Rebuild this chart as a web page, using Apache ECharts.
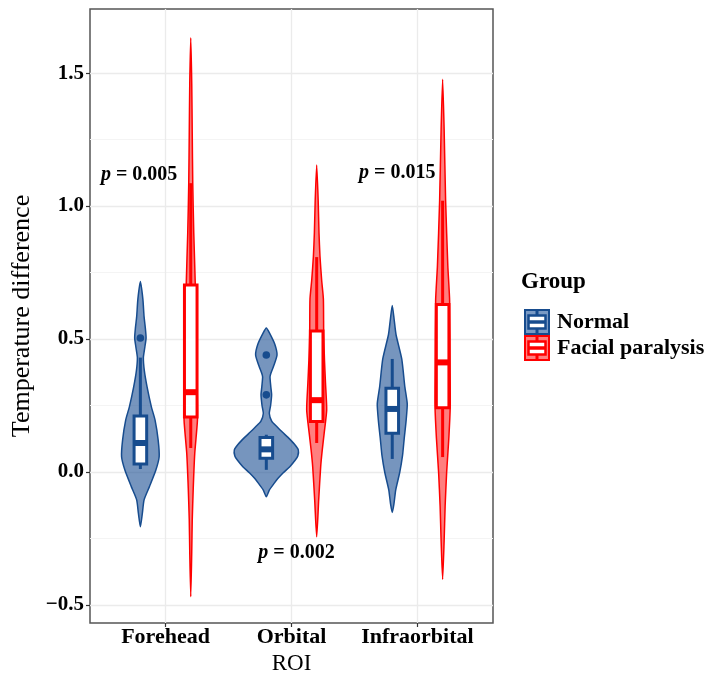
<!DOCTYPE html>
<html>
<head>
<meta charset="utf-8">
<script src="https://cdn.jsdelivr.net/npm/echarts@6/dist/echarts.min.js"></script>
<style>
html, body { margin: 0; padding: 0; background: #fff; }
#violinChart { width: 708px; height: 675px; }
</style>
</head>
<body>
<div id="violinChart"></div>
<script>
var categories = ["Forehead", "Orbital", "Infraorbital"];
var yTicks = [-0.5, 0, 0.5, 1, 1.5];
var yMinorTicks = [-0.25, 0.25, 0.75, 1.25];

// violin outlines, [value, density]
var normalViolins = [
  [[0.716, 0], [0.65, 2.5], [0.584, 3.7], [0.54, 5], [0.504, 5.7], [0.47, 4.5], [0.43, 3], [0.38, 4],
   [0.32, 6.7], [0.245, 11], [0.195, 14.7], [0.12, 17.8], [0.057, 18.8], [0.007, 15.5], [-0.056, 9],
   [-0.105, 3.7], [-0.155, 2], [-0.206, 0]],
  [[0.541, 0], [0.52, 3.5], [0.48, 8.5], [0.44, 10.7], [0.40, 7.5], [0.37, 4.5], [0.357, 3.7], [0.32, 4.5],
   [0.29, 5.3], [0.25, 4.3], [0.22, 3], [0.19, 5.5], [0.17, 10.7], [0.15, 16], [0.13, 21.7], [0.105, 28],
   [0.083, 32], [0.06, 31.5], [0.045, 29], [0.02, 23.5], [-0.004, 16.7], [-0.025, 11.5], [-0.042, 8],
   [-0.068, 3], [-0.093, 0]],
  [[0.626, 0], [0.57, 2], [0.516, 3.8], [0.425, 9.5], [0.32, 12.6], [0.256, 15], [0.19, 13.8], [0.127, 12],
   [0.062, 10.3], [-0.003, 7.4], [-0.067, 3.5], [-0.12, 1.7], [-0.152, 0]]
];
var paralysisViolins = [
  [[1.633, 0], [1.46, 1], [1.27, 1.5], [1.086, 2], [0.9, 3], [0.71, 4.5], [0.5, 5.5], [0.3, 6.5],
   [0.195, 6.7], [0.07, 4], [-0.06, 2.5], [-0.18, 1.5], [-0.3, 1], [-0.469, 0]],
  [[1.154, 0], [1.02, 1.5], [0.9, 2.3], [0.81, 3.3], [0.72, 5], [0.65, 6.7], [0.52, 7], [0.42, 7.8],
   [0.335, 8.8], [0.233, 10], [0.146, 7.5], [0.08, 5.5], [0.02, 4], [-0.105, 2], [-0.244, 0]],
  [[1.477, 0], [1.29, 1.5], [1.02, 3], [0.775, 5.2], [0.645, 7], [0.386, 7.5], [0.244, 7.6], [0.127, 6.2],
   [-0.003, 4], [-0.13, 2.5], [-0.26, 1.5], [-0.404, 0]]
];

// box stats: [lower whisker, q1, median, q3, upper whisker]
var normalBoxes = [
  [0.011, 0.03, 0.109, 0.21, 0.43],
  [0.008, 0.052, 0.085, 0.13, 0.14],
  [0.049, 0.146, 0.237, 0.315, 0.425]
];
var paralysisBoxes = [
  [0.09, 0.207, 0.30, 0.703, 1.086],
  [0.109, 0.19, 0.27, 0.53, 0.808],
  [0.056, 0.241, 0.412, 0.63, 1.02]
];
var normalOutliers = [[0.504], [0.44, 0.29], []];
var paralysisOutliers = [[], [], []];

var pValues = ["0.005", "0.002", "0.015"];
var pValueX = [0.79, 2.04, 2.84];
var pValueY = [1.117, -0.305, 1.124];

var serif = "Liberation Serif";
var blueLine = "#174c8e";
var blueFill = "rgba(27,79,147,0.6)";
var redLine = "#ff0000";
var redFill = "rgba(255,0,0,0.5)";
var densityScale = 1 / 126;
var boxHalf = 0.05;

function keyIcon(fill, line) {
  var svg = "<svg xmlns='http://www.w3.org/2000/svg' width='26' height='26'>" +
    "<rect x='1' y='1' width='24' height='24' fill='" + fill + "' stroke='" + line + "' stroke-width='2'/>" +
    "<line x1='13' y1='1' x2='13' y2='25' stroke='" + line + "' stroke-width='3'/>" +
    "<rect x='4.5' y='6.5' width='17' height='13' fill='#fff' stroke='" + line + "' stroke-width='2.5'/>" +
    "<line x1='4.5' y1='13' x2='21.5' y2='13' stroke='" + line + "' stroke-width='3.5'/>" +
    "</svg>";
  return "image://data:image/svg+xml;charset=utf-8," + encodeURIComponent(svg);
}

function makeRender(violins, boxes, outliers, offset, line, fill) {
  return function (params, api) {
    var i = params.dataIndex;
    var cx = i + 1 + offset;
    var prof = violins[i];
    var pts = [];
    prof.forEach(function (p) {
      pts.push(api.coord([cx + p[1] * densityScale, p[0]]));
    });
    for (var k = prof.length - 2; k > 0; k--) {
      pts.push(api.coord([cx - prof[k][1] * densityScale, prof[k][0]]));
    }
    var b = boxes[i];
    var tl = api.coord([cx - boxHalf, b[3]]);
    var br = api.coord([cx + boxHalf, b[1]]);
    var mid = api.coord([cx, b[2]]);
    var lo = api.coord([cx, b[0]]);
    var hi = api.coord([cx, b[4]]);
    var children = [
      { type: "polygon", shape: { points: pts, smooth: 0.2 }, style: { fill: fill, stroke: line, lineWidth: 1.5 } },
      { type: "line", shape: { x1: hi[0], y1: hi[1], x2: hi[0], y2: tl[1] }, style: { stroke: line, lineWidth: 3 } },
      { type: "line", shape: { x1: lo[0], y1: lo[1], x2: lo[0], y2: br[1] }, style: { stroke: line, lineWidth: 3 } },
      { type: "rect", shape: { x: tl[0], y: tl[1], width: br[0] - tl[0], height: br[1] - tl[1] },
        style: { fill: "#fff", stroke: line, lineWidth: 3 } },
      { type: "line", shape: { x1: tl[0], y1: mid[1], x2: br[0], y2: mid[1] }, style: { stroke: line, lineWidth: 6 } }
    ];
    outliers[i].forEach(function (v) {
      var c = api.coord([cx, v]);
      children.push({ type: "circle", shape: { cx: c[0], cy: c[1], r: 3.8 }, style: { fill: line } });
    });
    return { type: "group", children: children };
  };
}

var myChart = echarts.init(document.getElementById("violinChart"));

var option = {
  animation: false,
  backgroundColor: "#fff",
  title: {
    text: "Group",
    left: 516,
    top: 266,
    textStyle: { fontFamily: serif, fontSize: 23, fontWeight: "bold", color: "#000" }
  },
  legend: {
    orient: "vertical",
    left: 519,
    top: 304,
    itemWidth: 26,
    itemHeight: 26,
    itemGap: 0,
    selectedMode: false,
    textStyle: { fontFamily: serif, fontSize: 22, fontWeight: "bold", color: "#000", padding: [0, 0, 0, 2] },
    data: [
      { name: "Normal", icon: keyIcon("#7a9ac4", blueLine) },
      { name: "Facial paralysis", icon: keyIcon("#ff7f7f", redLine) }
    ]
  },
  grid: {
    left: 90,
    top: 9,
    width: 403,
    height: 614,
    outerBoundsMode: "none",
    containLabel: false,
    show: true,
    borderColor: "#555",
    borderWidth: 1.5,
    backgroundColor: "#fff"
  },
  xAxis: {
    type: "value",
    min: 0.4,
    max: 3.6,
    axisLine: { show: false, onZero: false },
    axisTick: { show: true, customValues: [1, 2, 3], length: 4, lineStyle: { color: "#333", width: 1.2 } },
    axisLabel: {
      customValues: [1, 2, 3],
      margin: 3,
      formatter: function (v) { return categories[Math.round(v) - 1]; },
      fontFamily: serif, fontSize: 22, fontWeight: "bold", color: "#000"
    },
    splitLine: { show: true, lineStyle: { color: "#ebebeb", width: 1.3 } },
    name: "ROI",
    nameLocation: "middle",
    nameGap: 28,
    nameTextStyle: { fontFamily: serif, fontSize: 23, color: "#000" }
  },
  yAxis: [
    {
      type: "value",
      min: -0.568,
      max: 1.741,
      axisLine: { show: false, onZero: false },
      axisTick: { show: true, customValues: yTicks, length: 4, lineStyle: { color: "#333", width: 1.2 } },
      axisLabel: {
        customValues: yTicks,
        margin: 6,
        formatter: function (v) { return (v < 0 ? "\u2212" : "") + Math.abs(v).toFixed(1); },
        fontFamily: serif, fontSize: 21, fontWeight: "bold", color: "#000"
      },
      splitLine: { show: true, lineStyle: { color: "#ebebeb", width: 1.3 } },
      name: "Temperature difference",
      nameLocation: "middle",
      nameGap: 51,
      nameTextStyle: { fontFamily: serif, fontSize: 26, color: "#000" }
    },
    {
      type: "value",
      min: -0.568,
      max: 1.741,
      axisLine: { show: false, onZero: false },
      axisTick: { show: false, customValues: yMinorTicks },
      axisLabel: { show: false, customValues: yMinorTicks },
      splitLine: { show: true, lineStyle: { color: "#f4f4f4", width: 1 } }
    }
  ],
  series: [
    {
      name: "Normal",
      type: "custom",
      renderItem: makeRender(normalViolins, normalBoxes, normalOutliers, -0.2, blueLine, blueFill),
      itemStyle: { color: blueLine },
      data: [[1, 0], [2, 0], [3, 0]],
      encode: { x: 0, y: 1 },
      z: 3
    },
    {
      name: "Facial paralysis",
      type: "custom",
      renderItem: makeRender(paralysisViolins, paralysisBoxes, paralysisOutliers, 0.2, redLine, redFill),
      itemStyle: { color: redLine },
      data: [[1, 0], [2, 0], [3, 0]],
      encode: { x: 0, y: 1 },
      z: 3
    },
    {
      name: "p",
      type: "custom",
      renderItem: function (params, api) {
        var i = params.dataIndex;
        var c = api.coord([pValueX[i], pValueY[i]]);
        return {
          type: "text",
          style: {
            x: c[0], y: c[1],
            text: "{i|p} = " + pValues[i],
            align: "center", verticalAlign: "middle",
            fontFamily: serif, fontSize: 20, fontWeight: "bold", fill: "#000",
            rich: { i: { fontFamily: serif, fontSize: 20, fontWeight: "bold", fontStyle: "italic", fill: "#000" } }
          }
        };
      },
      data: [[pValueX[0], pValueY[0]], [pValueX[1], pValueY[1]], [pValueX[2], pValueY[2]]],
      encode: { x: 0, y: 1 },
      z: 4
    }
  ]
};

myChart.setOption(option);
</script>
</body>
</html>
